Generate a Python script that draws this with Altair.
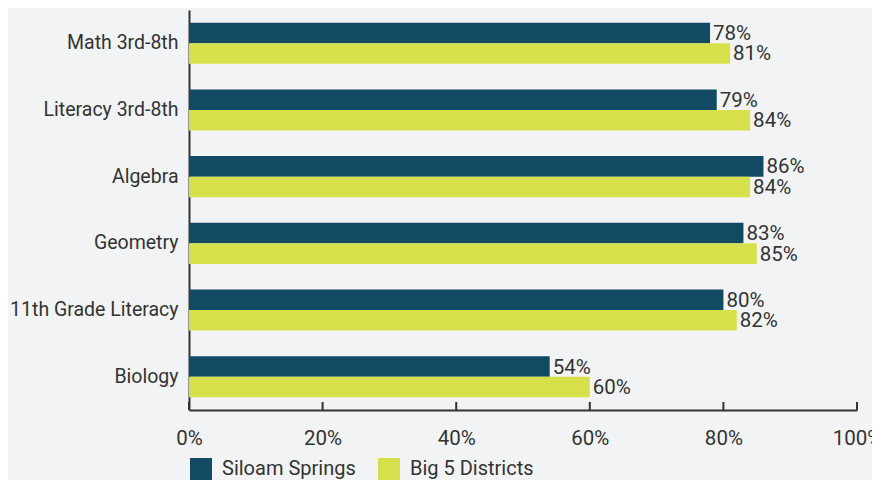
import altair as alt
import pandas as pd

categories = ["Math 3rd-8th", "Literacy 3rd-8th", "Algebra", "Geometry", "11th Grade Literacy", "Biology"]
series = ["Siloam Springs", "Big 5 Districts"]
siloam = [78, 79, 86, 83, 80, 54]
big5 = [81, 84, 84, 85, 82, 60]
ticks = [0, 20, 40, 60, 80, 100]

rows = []
for c, a, b in zip(categories, siloam, big5):
    rows.append({"cat": c, "series": series[0], "v": a})
    rows.append({"cat": c, "series": series[1], "v": b})
df = pd.DataFrame(rows)
tdf = pd.DataFrame({"t": ticks})

FONT = "Roboto"
TXT = "#333333"
W, H = 668, 400

y_enc = alt.Y("cat:N", sort=categories, title=None,
              scale=alt.Scale(paddingInner=0.385, paddingOuter=0.19),
              axis=alt.Axis(ticks=False, labelPadding=11, labelFontSize=19.5, labelColor=TXT,
                            labelFont=FONT, domainColor=TXT, domainWidth=2, labelLimit=300))
x_enc = alt.X("v:Q", title=None, scale=alt.Scale(domain=[0, 100]),
              axis=alt.Axis(values=ticks, ticks=False, grid=False, labelExpr="datum.value + '%'",
                            labelFlush=False, labelOverlap=False,
                            labelPadding=18, labelFontSize=20.5, labelColor=TXT, labelFont=FONT,
                            domainColor=TXT, domainWidth=2))
color = alt.Color("series:N", sort=series, title=None,
                  scale=alt.Scale(domain=series, range=["#124a63", "#d5e04b"]),
                  legend=alt.Legend(orient="none", legendX=1, legendY=448, direction="horizontal",
                                    symbolType="square", symbolSize=484, symbolStrokeWidth=0,
                                    symbolOpacity=1, labelFontSize=20, labelFont=FONT,
                                    labelColor=TXT, labelOffset=10, columnPadding=22,
                                    labelLimit=300))

base = alt.Chart(df).transform_calculate(lbl="datum.v + '%'")
bars = base.mark_bar().encode(
    y=y_enc, x=x_enc, color=color,
    yOffset=alt.YOffset("series:N", sort=series),
)
labels = base.mark_text(align="left", baseline="middle", dx=3, dy=1, fontSize=20.5, font=FONT, color=TXT).encode(
    y=alt.Y("cat:N", sort=categories),
    x=alt.X("v:Q"),
    yOffset=alt.YOffset("series:N", sort=series),
    text="lbl:N",
)
tick_rules = alt.Chart(tdf).mark_rule(color=TXT, strokeWidth=2).encode(
    x=alt.X("t:Q"), y=alt.value(H - 8), y2=alt.value(H)
)

chart = alt.layer(bars, labels, tick_rules).properties(
    width=W, height=H,
    autosize=alt.AutoSizeParams(type="none"),
    padding={"left": 181, "top": 2, "right": 15, "bottom": 80},
    background="#f2f3f5",
).configure_view(stroke=None)

chart.save("out.html", embed_options={"renderer": "svg", "actions": False})
